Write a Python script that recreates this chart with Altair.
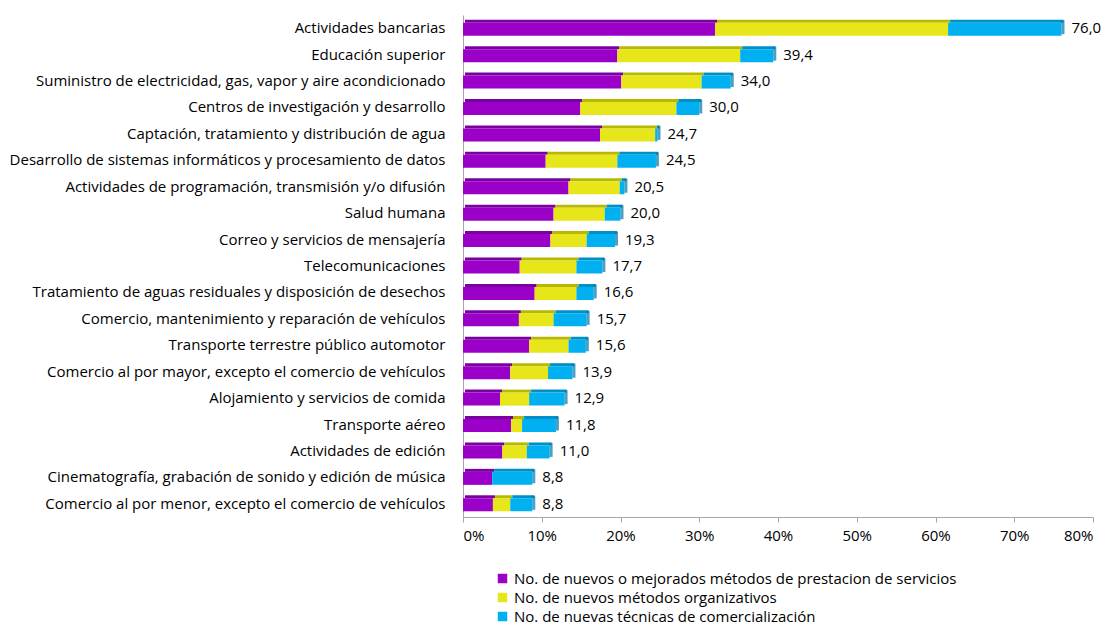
import altair as alt
import pandas as pd

categories = [
    "Actividades bancarias",
    "Educación superior",
    "Suministro de electricidad, gas, vapor y aire acondicionado",
    "Centros de investigación y desarrollo",
    "Captación, tratamiento y distribución de agua",
    "Desarrollo de sistemas informáticos y procesamiento de datos",
    "Actividades de programación, transmisión y/o difusión",
    "Salud humana",
    "Correo y servicios de mensajería",
    "Telecomunicaciones",
    "Tratamiento de aguas residuales y disposición de desechos",
    "Comercio, mantenimiento y reparación de vehículos",
    "Transporte terrestre público automotor",
    "Comercio al por mayor, excepto el comercio de vehículos",
    "Alojamiento y servicios de comida",
    "Transporte aéreo",
    "Actividades de edición",
    "Cinematografía, grabación de sonido y edición de música",
    "Comercio al por menor, excepto el comercio de vehículos",
]

series_names = [
    "No. de nuevos o mejorados métodos de prestacion de servicios",
    "No. de nuevos métodos organizativos",
    "No. de nuevas técnicas de comercialización",
]

servicios = [32.0, 19.6, 20.1, 14.9, 17.4, 10.5, 13.4, 11.5, 11.1, 7.2, 9.1, 7.1, 8.4, 6.0, 4.7, 6.1, 5.0, 3.7, 3.8]
organizativos = [29.6, 15.6, 10.2, 12.2, 7.0, 9.1, 6.5, 6.5, 4.6, 7.2, 5.3, 4.4, 5.0, 4.8, 3.7, 1.4, 3.1, 0.0, 2.2]
comercializacion = [14.4, 4.2, 3.7, 2.9, 0.3, 4.9, 0.6, 2.0, 3.6, 3.3, 2.2, 4.2, 2.2, 3.1, 4.5, 4.3, 2.9, 5.1, 2.8]
totals = [76.0, 39.4, 34.0, 30.0, 24.7, 24.5, 20.5, 20.0, 19.3, 17.7, 16.6, 15.7, 15.6, 13.9, 12.9, 11.8, 11.0, 8.8, 8.8]

x_ticks = [0, 10, 20, 30, 40, 50, 60, 70, 80]

colors = ["#9A00C8", "#E6E61A", "#00B0F0"]
top_colors = ["#7A00A0", "#B8B800", "#0090C8"]
cap_color = "#0078A8"

FONT = "Open Sans"
FS = 15

rows = []
for i, c in enumerate(categories):
    for k, vals in enumerate([servicios, organizativos, comercializacion]):
        rows.append({"cat": c, "serie": series_names[k], "k": k, "v": vals[i]})
df = pd.DataFrame(rows)

tot = pd.DataFrame({
    "cat": categories,
    "total": totals,
    "label": [f"{t:.1f}".replace(".", ",") for t in totals],
})

y_enc = alt.Y("cat:N", sort=categories, title=None,
              scale=alt.Scale(paddingInner=0.0, paddingOuter=0.0),
              axis=alt.Axis(labelFont=FONT, labelFontSize=FS, labelColor="#000000",
                            labelPadding=18, ticks=False, domain=True,
                            domainColor="#A6A6A6", labelLimit=600))
x_scale = alt.Scale(domain=[0, 80], nice=False)
x_axis = alt.Axis(values=x_ticks, labelExpr="datum.value + '%'", title=None,
                  labelFont=FONT, labelFontSize=FS, labelColor="#000000",
                  grid=False, domainColor="#A6A6A6", tickColor="#A6A6A6",
                  tickSize=5, labelPadding=6)

bars = alt.Chart(df).mark_bar(size=13, yOffset=1).encode(
    y=y_enc,
    x=alt.X("v:Q", stack="zero", scale=x_scale, axis=x_axis),
    color=alt.Color("serie:N", sort=series_names,
                    scale=alt.Scale(domain=series_names, range=colors),
                    legend=alt.Legend(title=None, orient="none", legendX=32, legendY=556,
                                      symbolType="square", symbolSize=90,
                                      symbolStrokeWidth=0,
                                      labelFont=FONT, labelFontSize=FS,
                                      labelColor="#000000", rowPadding=3,
                                      labelLimit=700, direction="vertical")),
    order=alt.Order("k:Q"),
)

tops = alt.Chart(df).mark_bar(size=3, yOffset=-7, xOffset=2).encode(
    y=alt.Y("cat:N", sort=categories),
    x=alt.X("v:Q", stack="zero", scale=x_scale),
    color=alt.Color("serie:N", sort=series_names,
                    scale=alt.Scale(domain=series_names, range=top_colors),
                    legend=None),
    order=alt.Order("k:Q"),
)

caps = alt.Chart(tot).mark_tick(thickness=3, size=14, xOffset=1.5, yOffset=-1,
                                color=cap_color).encode(
    y=alt.Y("cat:N", sort=categories),
    x=alt.X("total:Q", scale=x_scale),
)

labels = alt.Chart(tot).mark_text(align="left", dx=10, font=FONT, fontSize=FS,
                                  color="#000000").encode(
    y=alt.Y("cat:N", sort=categories),
    x=alt.X("total:Q", scale=x_scale),
    text="label:N",
)

chart = alt.layer(tops, bars, caps, labels).resolve_scale(color="independent").properties(
    width=630, height=502,
    autosize=alt.AutoSizeParams(type="none"),
    padding={"left": 455, "top": 7, "right": 12, "bottom": 111},
    background="#FFFFFF",
).configure_view(stroke=None)

chart.save("out.html", embed_options={"renderer": "svg", "actions": False})
